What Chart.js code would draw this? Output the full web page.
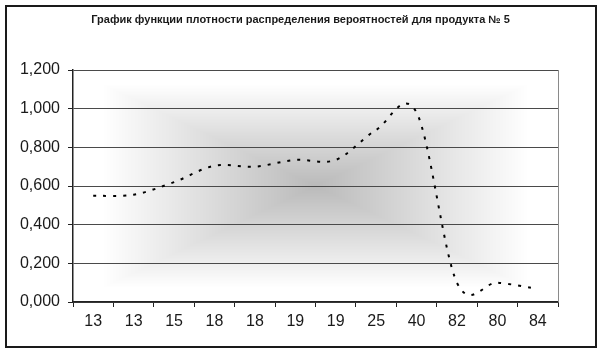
<!DOCTYPE html>
<html>
<head>
<meta charset="utf-8">
<script src="https://cdn.jsdelivr.net/npm/chart.js@4/dist/chart.umd.min.js"></script>
<style>
  html, body { margin: 0; padding: 0; background: #fff; }
  #wrap { width: 601px; height: 355px; position: relative; }
</style>
</head>
<body>
<div id="wrap"><canvas id="c"></canvas></div>
<script>
// ---- data ----
const titleText = "График функции плотности распределения вероятностей для продукта № 5";
const categories = ["13", "13", "15", "18", "18", "19", "19", "25", "40", "82", "80", "84"];
const densityValues = [0.55, 0.555, 0.62, 0.705, 0.70, 0.735, 0.735, 0.89, 0.98, 0.10, 0.10, 0.067];
const yTickMin = 0;
const yTickMax = 1.2;
const yTickStep = 0.2;

// ---- plugins ----
const frameAndBackground = {
  id: 'frameAndBackground',
  beforeDraw(chart) {
    const ctx = chart.ctx;
    const a = chart.chartArea;
    ctx.save();
    ctx.fillStyle = '#ffffff';
    ctx.fillRect(0, 0, chart.width, chart.height);
    const w = Math.round(a.right - a.left), h = Math.round(a.bottom - a.top);
    const off = document.createElement('canvas');
    off.width = w; off.height = h;
    const octx = off.getContext('2d');
    const img = octx.createImageData(w, h);
    const hw = w / 2, hh = h / 2;
    for (let y = 0; y < h; y++) {
      for (let x = 0; x < w; x++) {
        const tx = Math.abs(x + 0.5 - hw) / hw;
        const ty = Math.abs(y + 0.5 - hh) / hh;
        let t = Math.max(tx, ty) / 0.88;
        if (t > 1) t = 1;
        const v = Math.round(186 + 69 * t);
        const i = (y * w + x) * 4;
        img.data[i] = v; img.data[i + 1] = v; img.data[i + 2] = v; img.data[i + 3] = 255;
      }
    }
    octx.putImageData(img, 0, 0);
    ctx.drawImage(off, a.left, a.top);
    ctx.restore();
  },
  afterDraw(chart) {
    const ctx = chart.ctx;
    const a = chart.chartArea;
    ctx.save();
    ctx.strokeStyle = '#8a8a8a';
    ctx.lineWidth = 1;
    ctx.beginPath();
    ctx.moveTo(Math.round(a.right) + 0.5, a.top);
    ctx.lineTo(Math.round(a.right) + 0.5, a.bottom);
    ctx.stroke();
    ctx.strokeStyle = '#1a1a1a';
    ctx.lineWidth = 2;
    ctx.strokeRect(6, 6, 590, 341);
    ctx.restore();
  }
};

// Excel-like smoothing (uniform Catmull-Rom control points)
const excelSmooth = {
  id: 'excelSmooth',
  beforeDatasetsDraw(chart) {
    const meta = chart.getDatasetMeta(0);
    const line = meta.dataset;
    line.updateControlPoints(chart.chartArea, meta.iScale.axis);
    const pts = meta.data;
    const n = pts.length;
    for (let i = 0; i < n; i++) {
      const p = pts[i];
      const prev = pts[Math.max(i - 1, 0)];
      const next = pts[Math.min(i + 1, n - 1)];
      const dx = (next.x - prev.x) / 6;
      const dy = (next.y - prev.y) / 6;
      p.cp1x = p.x - dx; p.cp1y = p.y - dy;
      p.cp2x = p.x + dx; p.cp2y = p.y + dy;
    }
    line._path = undefined;
  }
};

const font = { family: '"Liberation Sans", Arial, sans-serif', size: 16 };

new Chart(document.getElementById('c'), {
  type: 'line',
  data: {
    labels: categories,
    datasets: [{
      data: densityValues,
      borderColor: '#000000',
      borderWidth: 2,
      borderDash: [3, 7],
      tension: 0.4,
      pointRadius: 0,
      fill: false
    }]
  },
  options: {
    responsive: true,
    maintainAspectRatio: false,
    animation: false,
    events: [],
    layout: { padding: 0 },
    plugins: {
      legend: { display: false },
      tooltip: { enabled: false },
      title: {
        display: true,
        text: titleText,
        color: '#1a1a1a',
        font: { family: '"Liberation Sans", Arial, sans-serif', size: 11, weight: 'bold' },
        padding: { top: 13, bottom: 43.8 }
      }
    },
    scales: {
      x: {
        offset: true,
        grid: { display: true, drawOnChartArea: false, drawTicks: true, tickLength: 5, color: '#222', offset: true },
        border: { display: true, color: '#222', width: 1.5 },
        ticks: { color: '#1a1a1a', font: font, padding: 5, maxRotation: 0, autoSkip: false },
        afterFit(s) { s.height = 53; }
      },
      y: {
        min: yTickMin,
        max: yTickMax,
        grid: { color: '#4a4a4a', lineWidth: 1, tickLength: 5, tickColor: '#222' },
        border: { display: true, color: '#222', width: 1.5 },
        ticks: {
          stepSize: yTickStep,
          color: '#1a1a1a',
          font: font,
          padding: 8,
          callback: (v) => Number(v).toFixed(3).replace('.', ',')
        },
        afterFit(s) { s.width = 73; }
      },
      spacer: {
        type: 'linear',
        position: 'right',
        display: true,
        grid: { display: false, drawOnChartArea: false, drawTicks: false },
        border: { display: false },
        ticks: { display: false },
        afterFit(s) { s.width = 43; }
      }
    }
  },
  plugins: [frameAndBackground, excelSmooth]
});
</script>
</body>
</html>
